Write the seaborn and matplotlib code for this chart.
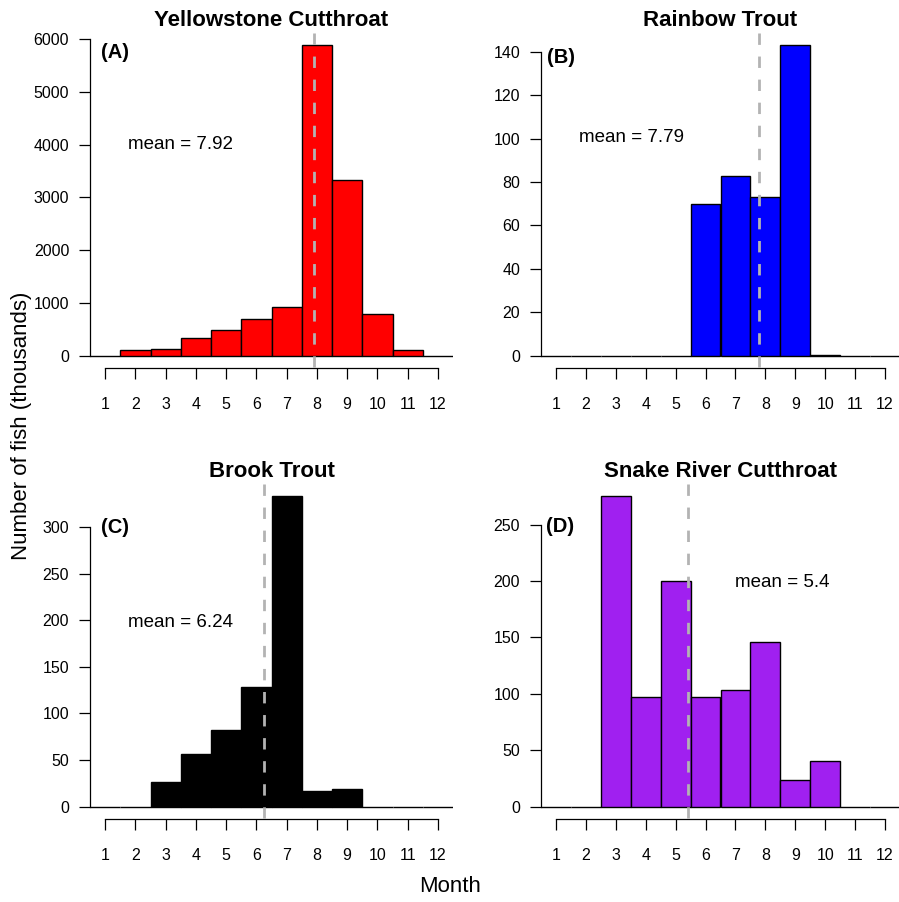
import numpy as np
import pandas as pd
import matplotlib
matplotlib.use("Agg")
import matplotlib.pyplot as plt
import seaborn as sns

sns.set_theme(style="white")
plt.rcParams['font.family'] = ['Liberation Sans', 'DejaVu Sans']
plt.rcParams['text.color'] = 'black'
plt.rcParams['axes.labelcolor'] = 'black'
plt.rcParams['xtick.color'] = 'black'
plt.rcParams['ytick.color'] = 'black'

months = list(range(1, 13))
yellowstone = [0, 100, 130, 340, 480, 690, 930, 5880, 3320, 780, 110, 0]
rainbow = [0, 0, 0, 0, 0, 70, 83, 73, 143, 0.5, 0, 0]
brook = [0, 0, 26, 56, 82, 128, 333, 17, 19, 0, 0, 0]
snake = [0, 0, 275, 97, 200, 97, 103, 146, 24, 40, 0, 0]

titles = ["Yellowstone Cutthroat", "Rainbow Trout", "Brook Trout", "Snake River Cutthroat"]
panel_labels = ["(A)", "(B)", "(C)", "(D)"]
means = [7.92, 7.79, 6.24, 5.4]
mean_labels = ["mean = 7.92", "mean = 7.79", "mean = 6.24", "mean = 5.4"]
colors = ["#FF0000", "#0000FF", "#000000", "#A020F0"]
yticks = [np.arange(0, 6001, 1000), np.arange(0, 141, 20),
          np.arange(0, 301, 50), np.arange(0, 251, 50)]
series = [yellowstone, rainbow, brook, snake]

W, H = 899, 902
fig = plt.figure(figsize=(W / 100, H / 100), dpi=100)

# axes rectangles in pixels: (left, top, width, height)
rects = [(90, 33, 363, 335), (541, 33, 359, 335),
         (90, 484, 363, 335), (541, 484, 359, 335)]
mean_pos = [(0.248, 0.666), (0.253, 0.687), (0.248, 0.588), (0.671, 0.707)]
lab_pos = [(0.030, 0.943), (0.018, 0.928), (0.030, 0.869), (0.015, 0.872)]

for i in range(4):
    l, t, w, h = rects[i]
    ax = fig.add_axes([l / W, 1 - (t + h) / H, w / W, h / H])
    df = pd.DataFrame({"month": months, "n": series[i]})
    sns.histplot(data=df, x="month", weights="n", binwidth=1, binrange=(0.5, 12.5),
                 color=colors[i], edgecolor="black", linewidth=1.0, alpha=1, ax=ax)
    mx = max(series[i])
    ax.set_ylim(-0.04 * mx, 1.04 * mx)
    ax.set_xlim(0.5, 12.5)
    ax.set_xlabel("")
    ax.set_ylabel("")
    ax.grid(False)
    for s in ["top", "right"]:
        ax.spines[s].set_visible(False)
    ax.spines["left"].set_bounds(yticks[i][0], yticks[i][-1])
    ax.spines["bottom"].set_bounds(1, 12)
    for s in ["left", "bottom"]:
        ax.spines[s].set_color("black")
        ax.spines[s].set_linewidth(0.9)
    ax.set_xticks(months)
    ax.set_xticklabels([str(m) for m in months])
    ax.set_yticks(yticks[i])
    ax.set_yticklabels([str(v) for v in yticks[i]])
    ax.tick_params(axis="x", direction="out", length=8, width=0.9, pad=13,
                   labelsize=11.5, colors="black", bottom=True)
    ax.tick_params(axis="y", direction="out", length=8, width=0.9, pad=7,
                   labelsize=11.5, colors="black", left=True)
    ax.plot([means[i], means[i]], [1, 0], transform=ax.get_xaxis_transform(),
            color="#b3b3b3", lw=2, linestyle=(0, (4.1, 4.2)), clip_on=False, zorder=5)
    ax.text(mean_pos[i][0], mean_pos[i][1], mean_labels[i], transform=ax.transAxes,
            ha="center", va="center", fontsize=13.5, color="black")
    ax.text(lab_pos[i][0], lab_pos[i][1], panel_labels[i], transform=ax.transAxes,
            ha="left", va="center", fontsize=14.5, fontweight="bold", color="black")
    ax.text(0.5, 1 + 12.5 / h, titles[i], transform=ax.transAxes,
            ha="center", va="center", fontsize=16, fontweight="bold", color="black")

fig.text(450 / W, 1 - 886 / H, "Month", ha="center", va="center", fontsize=16,
         color="black")
fig.text(22 / W, 1 - 426 / H, "Number of fish (thousands)", ha="center", va="center",
         rotation=90, fontsize=16, color="black")

fig.savefig("out.png", dpi=100)
